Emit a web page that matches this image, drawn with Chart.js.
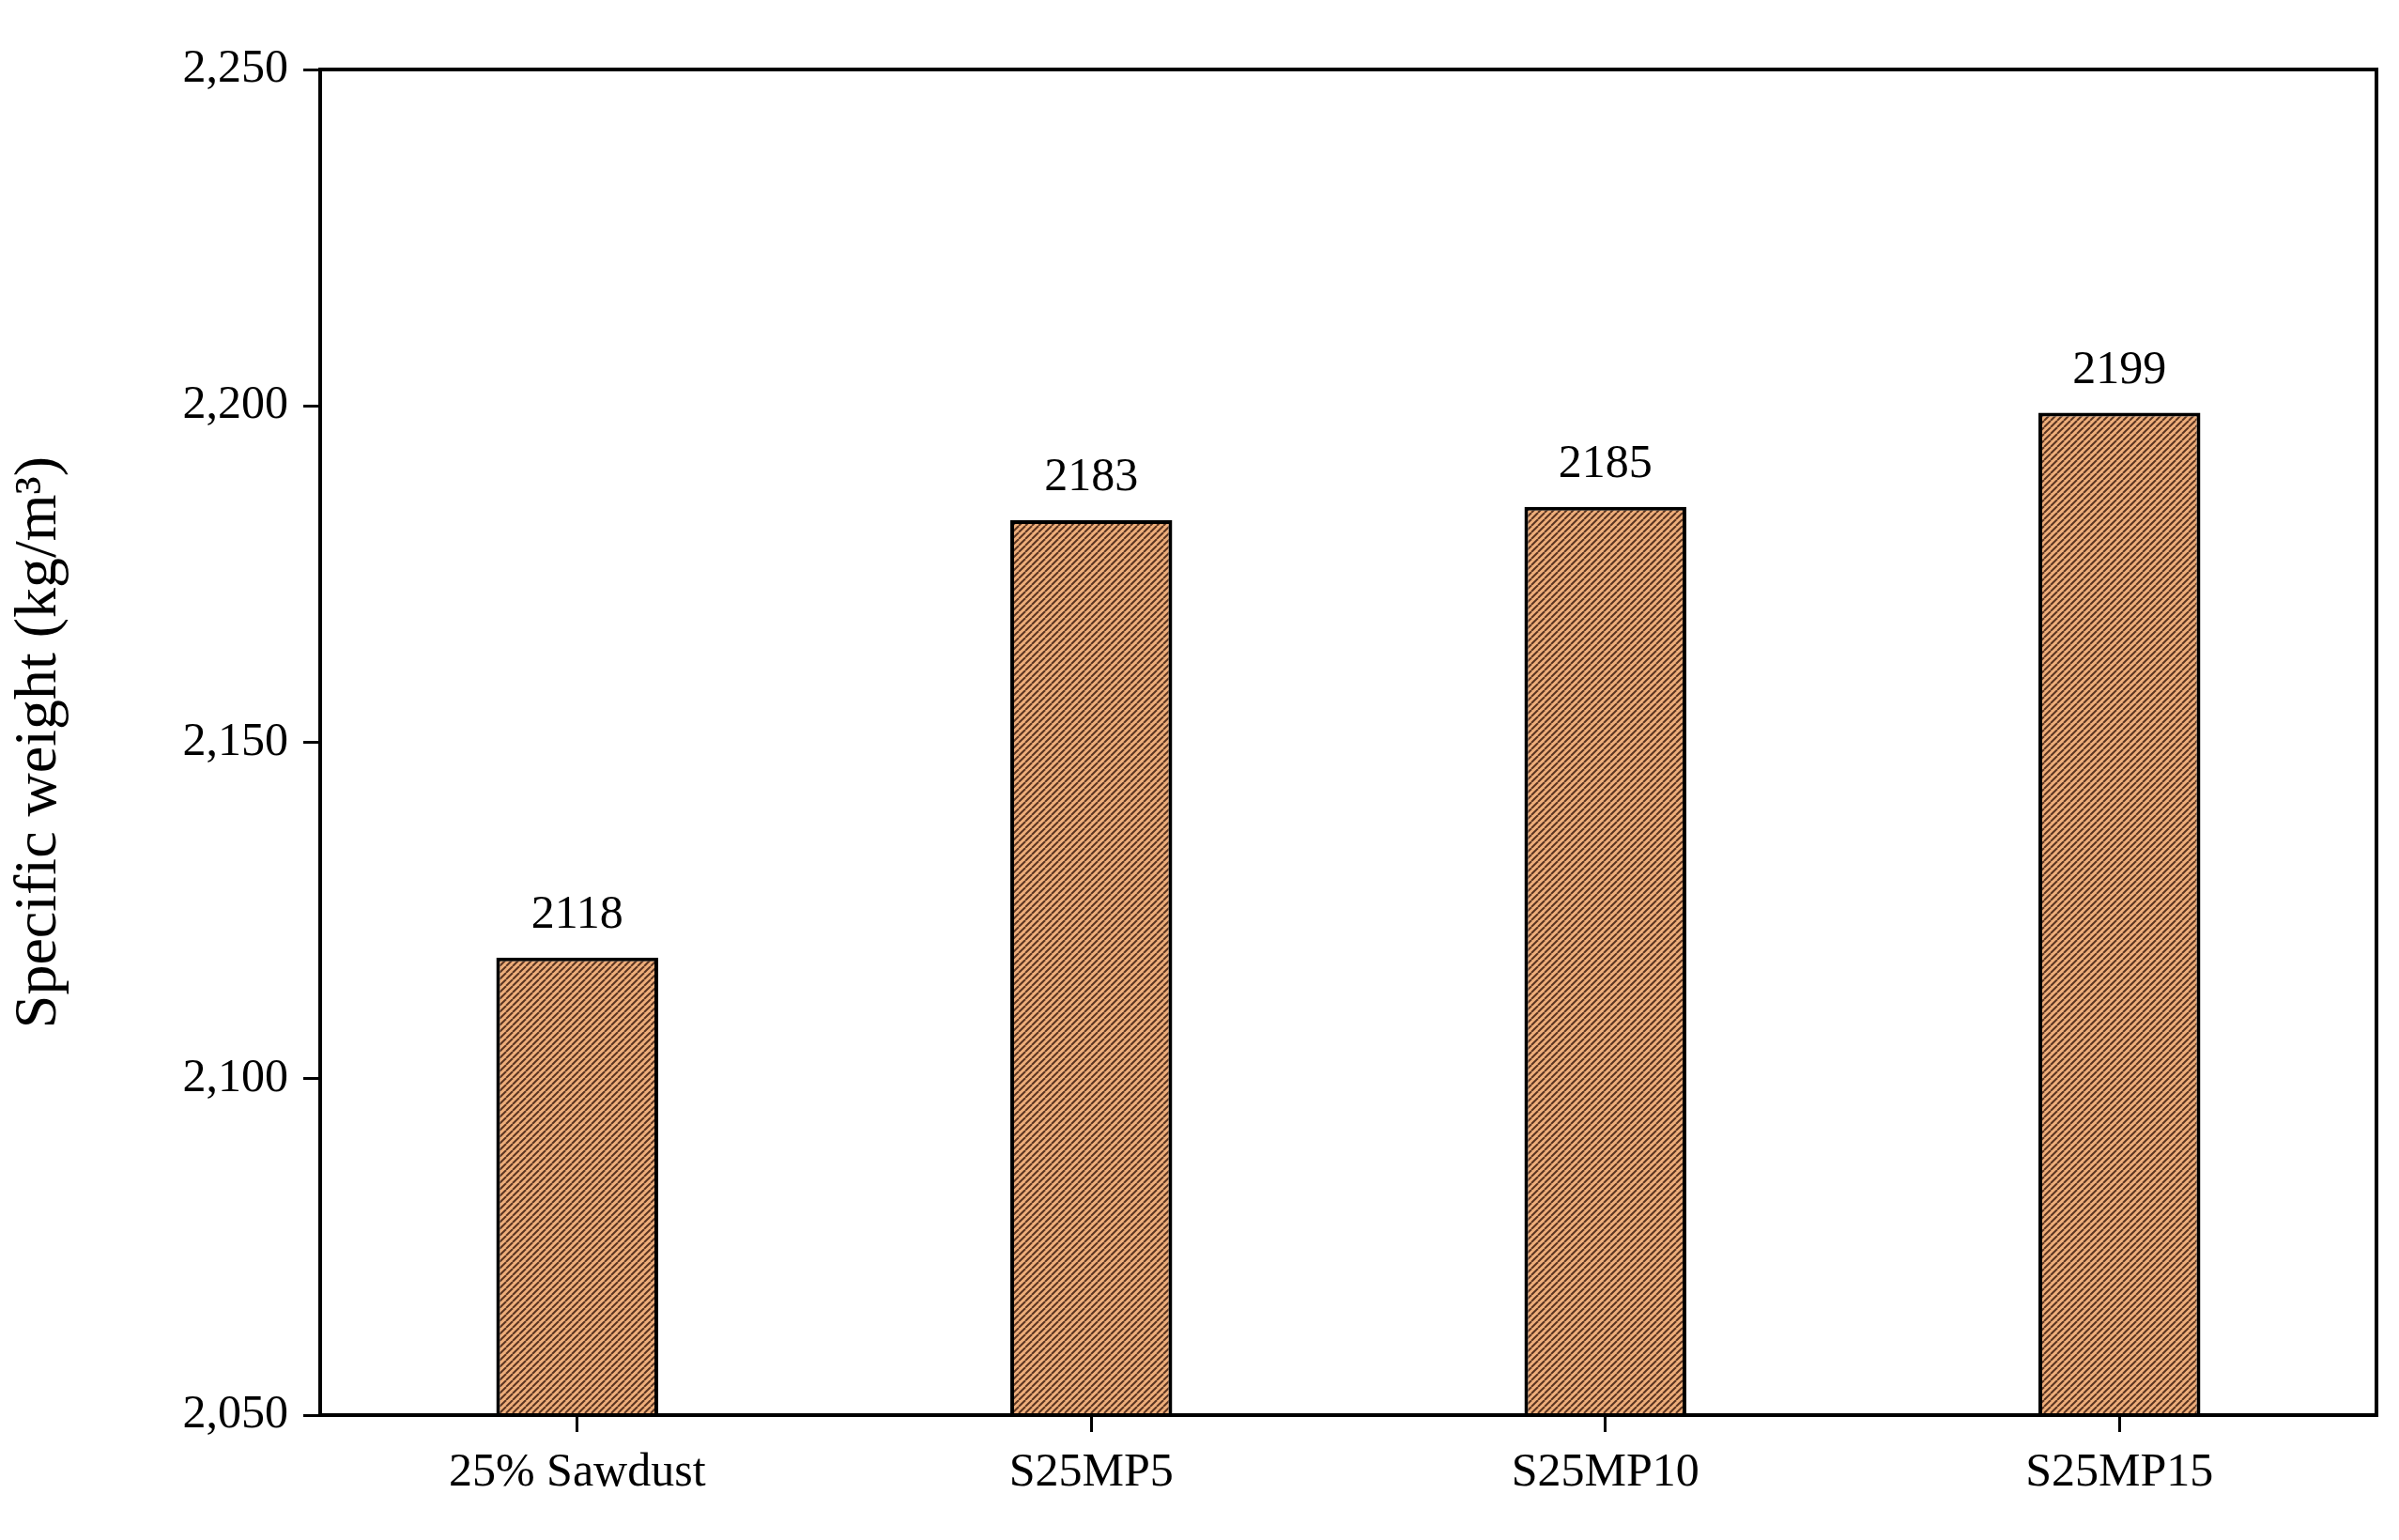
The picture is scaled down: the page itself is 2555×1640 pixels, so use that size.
<!DOCTYPE html>
<html><head><meta charset="utf-8">
<script src="https://cdn.jsdelivr.net/npm/chart.js@4"></script>
<style>html,body{margin:0;padding:0;background:#fff}#wrap{width:2555px;height:1640px}</style>
</head><body><div id="wrap"><canvas id="c" width="2555" height="1640"></canvas></div>
<script>
const categories = ["25% Sawdust", "S25MP5", "S25MP10", "S25MP15"];
const values = [2118, 2183, 2185, 2199];
const yTicks = [2050, 2100, 2150, 2200, 2250];

function hatch(){
  const p=document.createElement('canvas'); p.width=7; p.height=7;
  const g=p.getContext('2d');
  g.fillStyle='#eeae7a'; g.fillRect(0,0,7,7);
  g.strokeStyle='#5a3420'; g.lineWidth=2;
  for(const o of [-7,0,7]){g.beginPath();g.moveTo(o,7);g.lineTo(o+7,0);g.stroke();}
  return document.getElementById('c').getContext('2d').createPattern(p,'repeat');
}
const font='"Liberation Serif", "Times New Roman", serif';
const deco={id:'deco',afterDatasetsDraw(ch){
  const c=ch.ctx,a=ch.chartArea;
  c.save();c.strokeStyle='#000';c.lineWidth=4;
  c.strokeRect(a.left,a.top,a.right-a.left,a.bottom-a.top);
  c.fillStyle='#000';c.font='50px '+font;c.textAlign='center';c.textBaseline='bottom';
  ch.getDatasetMeta(0).data.forEach((b,i)=>c.fillText(String(values[i]),b.x,b.y-20));
  c.restore();
}};
new Chart(document.getElementById('c'),{
  type:'bar',
  data:{labels:categories,datasets:[{data:values,backgroundColor:hatch(),borderColor:'#000',borderWidth:4,borderSkipped:false,categoryPercentage:1,barPercentage:0.315}]},
  options:{responsive:false,animation:false,
    layout:{padding:{top:74,right:24,left:0,bottom:0}},
    plugins:{legend:{display:false},tooltip:{enabled:false}},
    scales:{
      x:{grid:{display:true,drawOnChartArea:false,tickLength:18,color:'#000',lineWidth:3,offset:false},
        border:{display:true,color:'#000',width:4},
        ticks:{color:'#000',font:{size:50,family:font},padding:14},
        afterFit(s){s.height=133;}},
      y:{min:2050,max:2250,afterBuildTicks(s){s.ticks=yTicks.map(v=>({value:v}));},
        grid:{display:true,drawOnChartArea:false,tickLength:18,color:'#000',lineWidth:3},
        border:{display:true,color:'#000',width:4},
        ticks:{color:'#000',font:{size:50,family:font},padding:16},
        title:{display:true,text:'Specific weight (kg/m³)',color:'#000',font:{size:64,family:font},padding:{bottom:18}},
        afterFit(s){s.width=341;}}
    }},
  plugins:[deco]
});
</script></body></html>
